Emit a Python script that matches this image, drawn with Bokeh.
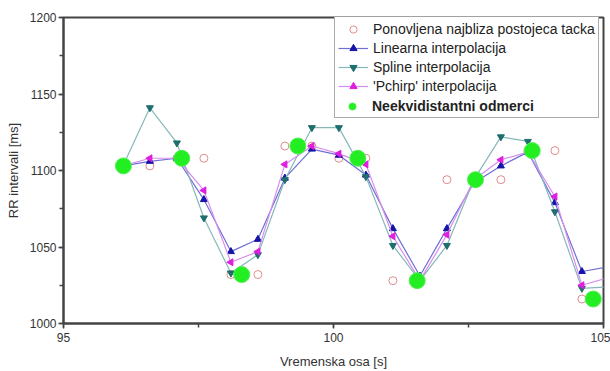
import math
from bokeh.plotting import figure
from bokeh.models import (Legend, LegendItem, SingleIntervalTicker, Range1d)
from bokeh.embed import file_html
from bokeh.resources import INLINE

# interpolation grid (s)
t_grid = [96.1, 96.6, 97.1, 97.6, 98.1, 98.6, 99.1, 99.6, 100.1, 100.6,
          101.1, 101.6, 102.1, 102.6, 103.1, 103.6, 104.1, 104.6, 105.1]
ponovljena = [1103, 1103, 1108, 1108, 1032, 1032, 1116, 1116, 1108, 1108,
              1028, 1028, 1094, 1094, 1094, 1113, 1113, 1016, 1016]
linearna = [1103, 1106, 1108, 1081, 1047, 1055, 1095, 1114, 1110, 1097,
            1062, 1031, 1062, 1092, 1103, 1112, 1079, 1034, 1037]
spline = [1103, 1141, 1118, 1069, 1033, 1045, 1094, 1128, 1128, 1096,
          1051, 1028, 1051, 1094, 1122, 1119, 1073, 1023, 1024]
pchirp = [1103, 1108, 1108, 1087, 1040, 1047, 1104, 1116, 1111, 1104,
          1057, 1028, 1058, 1094, 1107, 1112, 1083, 1025, 1030]

# non-equidistant samples
t_samples = [96.11, 97.19, 98.30, 99.34, 100.45, 101.55, 102.63, 103.68, 104.81]
rr_samples = [1103, 1108, 1032, 1116, 1108, 1028, 1094, 1113, 1016]

labels = ["Ponovljena najbliza postojeca tacka", "Linearna interpolacija",
          "Spline interpolacija", "'Pchirp' interpolacija",
          "Neekvidistantni odmerci"]

FONT = "Liberation Sans"

p = figure(width=610, height=371, output_backend="svg", toolbar_location=None,
           x_range=Range1d(95, 105), y_range=Range1d(1000, 1200),
           min_border_left=63, min_border_right=7, min_border_top=17,
           min_border_bottom=47)
p.background_fill_color = "white"
p.border_fill_color = "white"
p.outline_line_color = "#444444"
p.outline_line_width = 2
p.xgrid.visible = False
p.ygrid.visible = False

p.xaxis.ticker = SingleIntervalTicker(interval=5, num_minor_ticks=2)
p.yaxis.ticker = SingleIntervalTicker(interval=50, num_minor_ticks=2)
for ax in (p.xaxis, p.yaxis):
    ax.axis_line_color = "#444444"
    ax.axis_line_width = 2
    ax.major_tick_line_color = "#444444"
    ax.minor_tick_line_color = "#444444"
    ax.major_tick_line_width = 1.5
    ax.minor_tick_line_width = 1.5
    ax.major_tick_in = 0
    ax.major_tick_out = 5
    ax.minor_tick_in = 0
    ax.minor_tick_out = 4
    ax.major_label_text_font = FONT
    ax.major_label_text_font_size = "12px"
    ax.major_label_text_color = "#333333"
    ax.axis_label_text_font = FONT
    ax.axis_label_text_font_size = "13px"
    ax.axis_label_text_font_style = "normal"
    ax.axis_label_text_color = "#333333"
p.xaxis.axis_label = "Vremenska osa [s]"
p.yaxis.axis_label = "RR intervali [ms]"
p.xaxis.major_label_standoff = 4
p.yaxis.major_label_standoff = 2
p.xaxis.axis_label_standoff = 9
p.yaxis.axis_label_standoff = 6

r_pon = p.scatter(t_grid, ponovljena, marker="circle", size=8,
                  fill_color=None, line_color="#e08c8c", line_width=1)

l_lin = p.line(t_grid, linearna, line_color="#6f6fd6", line_width=1.2)
s_lin = p.scatter(t_grid, linearna, marker="triangle", size=7,
                  fill_color="#1414a8", line_color="#1414a8")

l_spl = p.line(t_grid, spline, line_color="#86b8b8", line_width=1.2)
s_spl = p.scatter(t_grid, spline, marker="inverted_triangle", size=7,
                  fill_color="#1f6e6e", line_color="#1f6e6e")

l_pch = p.line(t_grid, pchirp, line_color="#d78ef0", line_width=1.2)
s_pch = p.scatter(t_grid, pchirp, marker="triangle", angle=math.pi / 2, size=7,
                  fill_color="#e01ee0", line_color="#e01ee0")

r_neq = p.scatter(t_samples, rr_samples, marker="circle", size=16,
                  fill_color="#22ee22", line_color="#55f055", line_width=1)

# empty placeholder so the bordered legend keeps a fifth (blank) row
r_blank = p.scatter([], [], marker="circle", size=1, fill_alpha=0, line_alpha=0)

def make_legend(items, bold=False, border=True):
    lg = Legend(items=items, location=(271, 205),
                label_text_font=FONT, label_text_font_size="14px",
                label_text_color="#222222",
                label_text_font_style="bold" if bold else "normal",
                glyph_width=30, glyph_height=18, label_height=18,
                label_standoff=5, spacing=1, padding=3, margin=0,
                border_line_color="#555555", border_line_width=1)
    if border:
        lg.background_fill_color = "white"
        lg.background_fill_alpha = 1
    else:
        lg.border_line_alpha = 0
        lg.background_fill_alpha = 0
    return lg

legA = make_legend([
    LegendItem(label=labels[0], renderers=[r_pon]),
    LegendItem(label=labels[1], renderers=[l_lin, s_lin]),
    LegendItem(label=labels[2], renderers=[l_spl, s_spl]),
    LegendItem(label=labels[3], renderers=[l_pch, s_pch]),
    LegendItem(label=" ", renderers=[r_blank]),
])
legB = make_legend([LegendItem(label=labels[4], renderers=[r_neq])],
                   bold=True, border=False)
p.add_layout(legA, "center")
p.add_layout(legB, "center")

open("out.html", "w").write(file_html(p, INLINE))
